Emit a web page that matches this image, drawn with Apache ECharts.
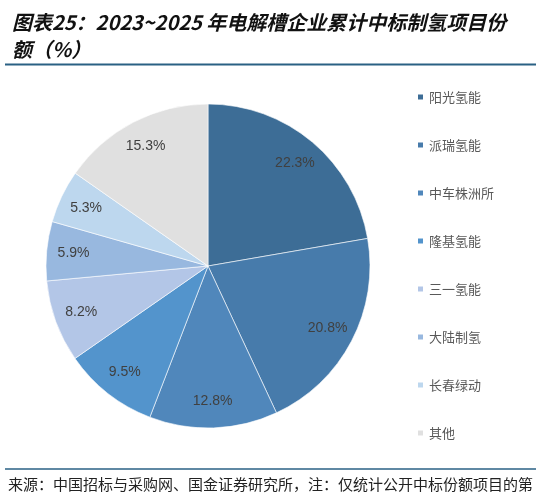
<!DOCTYPE html>
<html>
<head>
<meta charset="utf-8">
<script src="https://cdn.jsdelivr.net/npm/echarts@6/dist/echarts.min.js"></script>
<style>
  html, body { margin: 0; padding: 0; background: #fff; }
  #chart { width: 541px; height: 500px; }
</style>
</head>
<body>
<div id="chart"></div>
<script>
// 企业名称与份额（%）
const companies = ["阳光氢能", "派瑞氢能", "中车株洲所", "隆基氢能", "三一氢能", "大陆制氢", "长春绿动", "其他"];
const shares = [22.3, 20.8, 12.8, 9.5, 8.2, 5.9, 5.3, 15.3];
const colors = ["#3d6d96", "#477bab", "#5087bb", "#5394cc", "#b3c6e7", "#98b8df", "#bdd7ee", "#e0e0e0"];

const CJK = '"Noto Sans CJK SC", "Noto Sans", sans-serif';

const chart = echarts.init(document.getElementById("chart"));

const pieData = companies.map((name, i) => ({
  name,
  value: shares[i],
  itemStyle: { color: colors[i] },
}));

chart.setOption({
  animation: false,
  title: {
    text: "图表25：2023~2025 年电解槽企业累计中标制氢项目份\n额（%）",
    left: 7,
    top: 4,
    textStyle: {
      fontFamily: CJK,
      fontSize: 20,
      fontWeight: "bold",
      fontStyle: "italic",
      color: "#111",
      lineHeight: 27,
    },
  },
  legend: {
    orient: "vertical",
    left: 416,
    top: 90,
    padding: 0,
    itemWidth: 7,
    itemHeight: 7,
    itemGap: 34,
    icon: "rect",
    data: companies,
    selectedMode: false,
    textStyle: {
      fontFamily: CJK,
      fontSize: 13,
      color: "#595959",
      lineHeight: 14,
    },
  },
  graphic: [
    {
      type: "line",
      shape: { x1: 5, y1: 64.5, x2: 536, y2: 64.5 },
      style: { stroke: "#2a6184", lineWidth: 2 },
    },
    {
      type: "line",
      shape: { x1: 5, y1: 469, x2: 536, y2: 469 },
      style: { stroke: "#2a6184", lineWidth: 1.5 },
    },
    {
      type: "text",
      left: 8,
      top: 477,
      style: {
        text: "来源：中国招标与采购网、国金证券研究所，注：仅统计公开中标份额项目的第",
        font: '15px "Noto Sans CJK SC", sans-serif',
        fill: "#222",
      },
    },
  ],
  series: [
    {
      type: "pie",
      center: [208, 266],
      radius: [0, 162],
      startAngle: 90,
      clockwise: true,
      silent: true,
      label: { show: false },
      labelLine: { show: false },
      itemStyle: { borderColor: "#ffffff", borderWidth: 0.6 },
      data: pieData,
    },
    {
      // 仅用于放置标签的透明环
      type: "pie",
      center: [208, 266],
      radius: [102, 162],
      startAngle: 90,
      clockwise: true,
      silent: true,
      itemStyle: { color: "rgba(0,0,0,0)" },
      labelLine: { show: false },
      label: {
        show: true,
        position: "inside",
        formatter: (p) => p.value.toFixed(1) + "%",
        fontFamily: "Liberation Sans, Arial, sans-serif",
        fontSize: 14,
        color: "#404040",
      },
      data: companies.map((name, i) => ({ name, value: shares[i] })),
    },
  ],
});

window.addEventListener("resize", () => chart.resize());
</script>
</body>
</html>
